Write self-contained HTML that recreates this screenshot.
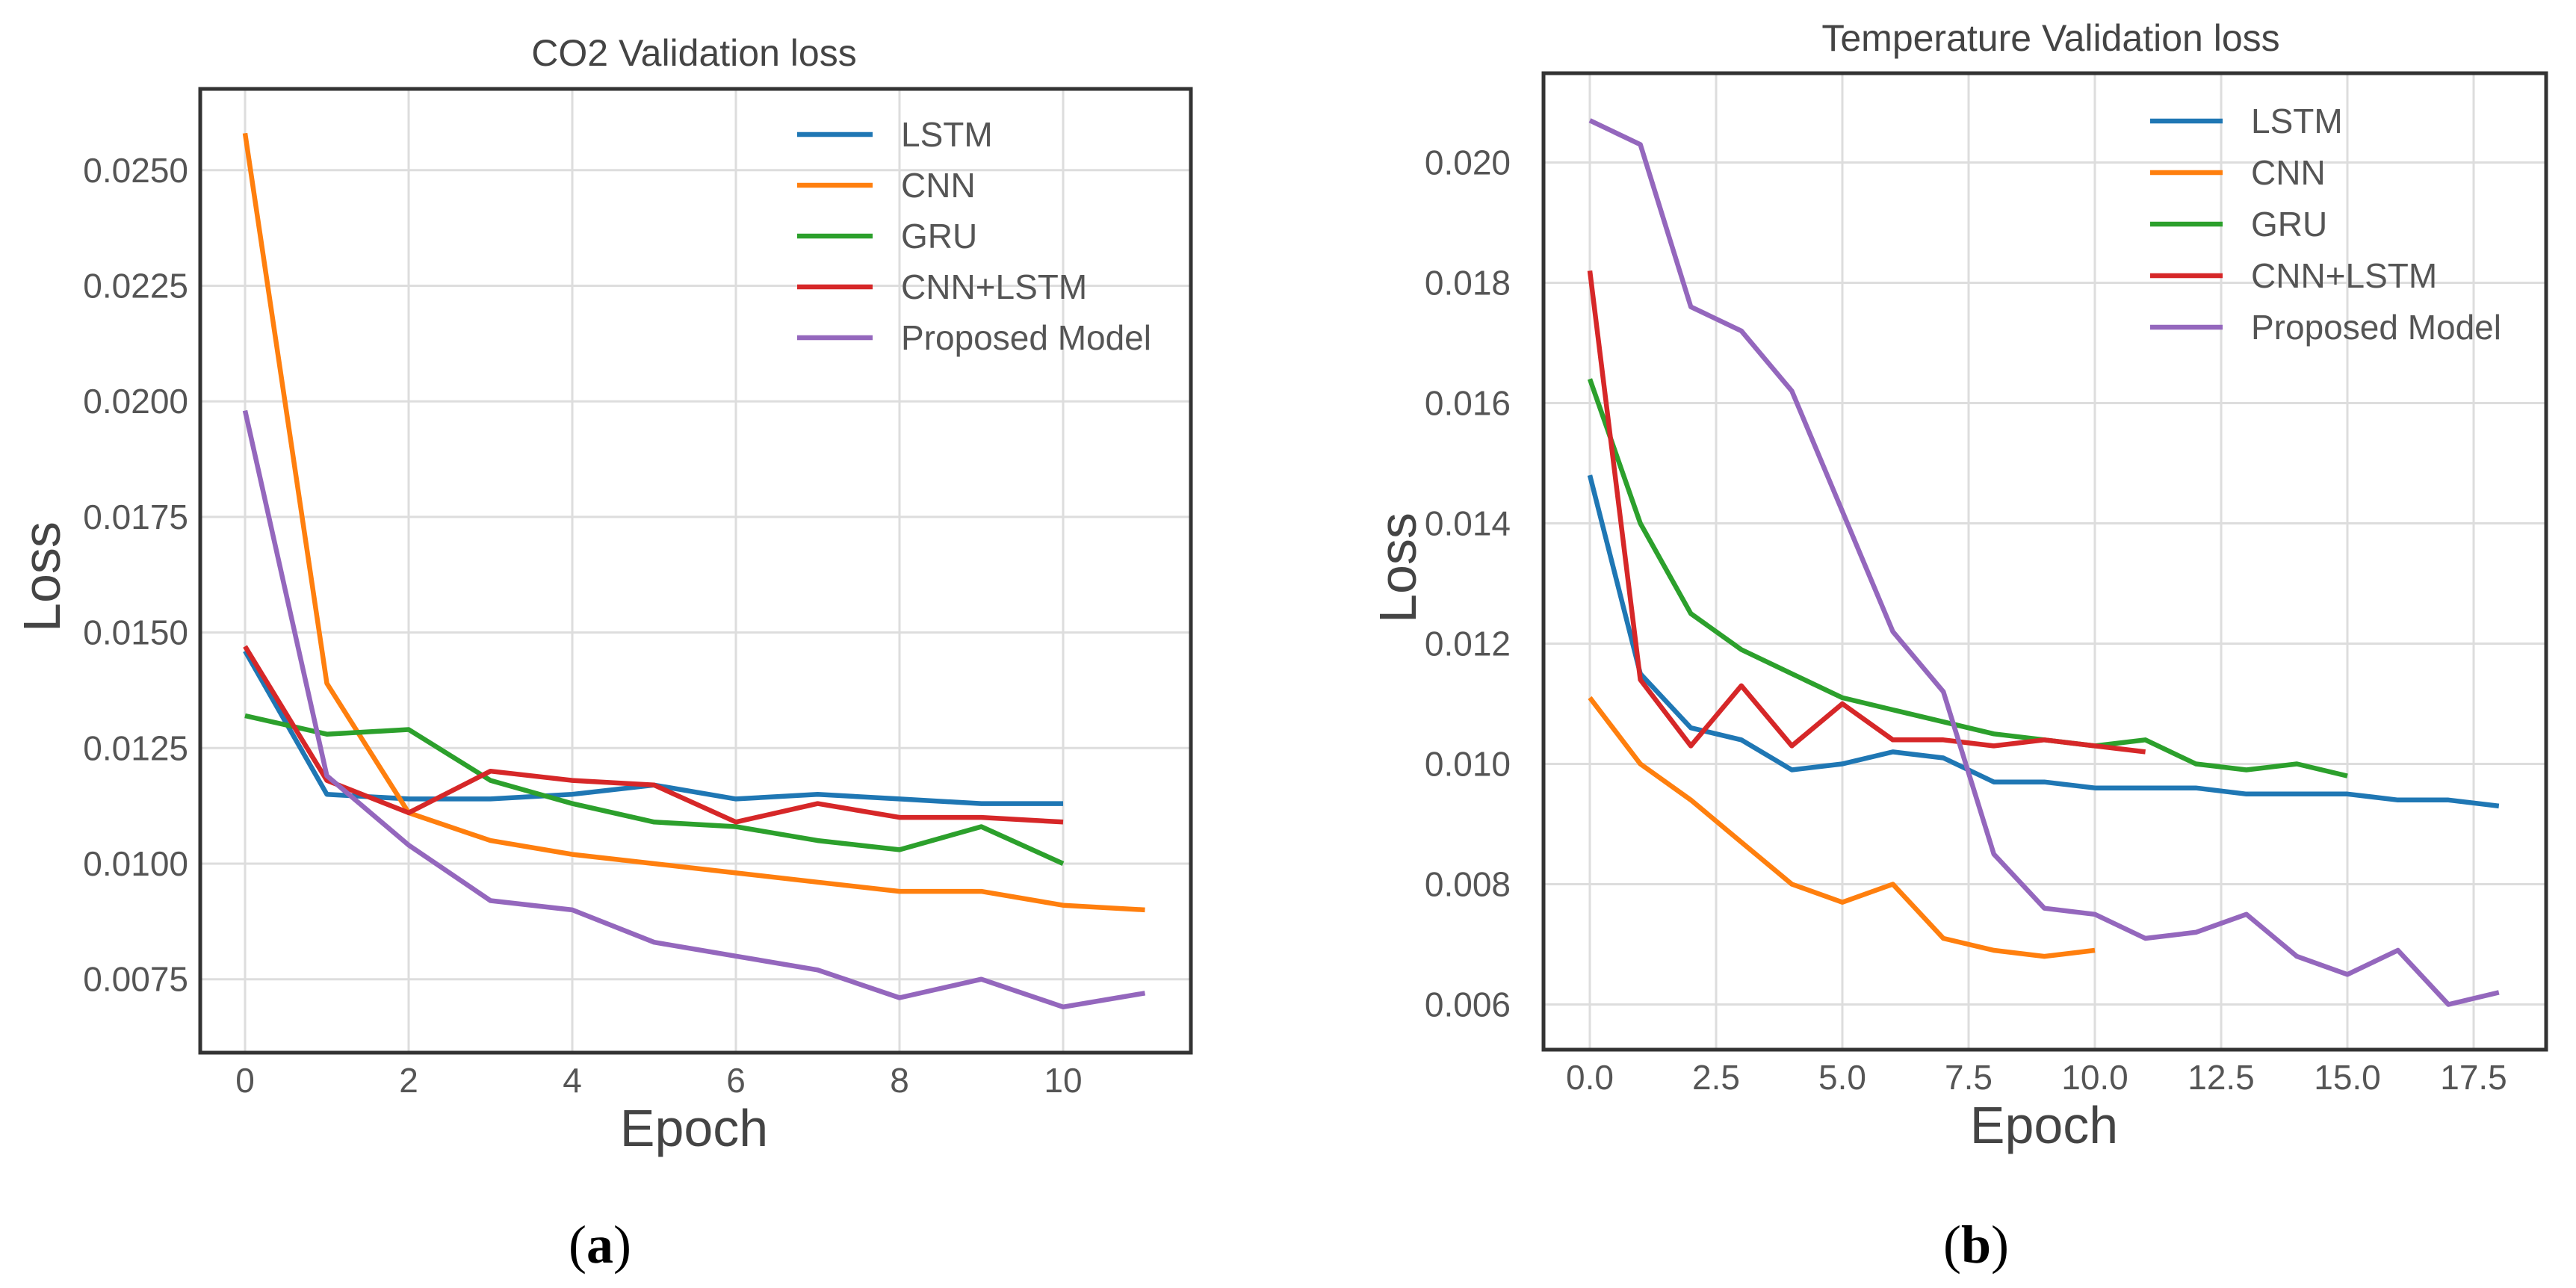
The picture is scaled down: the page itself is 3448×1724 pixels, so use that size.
<!DOCTYPE html>
<html><head><meta charset="utf-8"><style>
html,body{margin:0;padding:0;background:#fff;}
svg{display:block;}
text{font-family:"Liberation Sans",sans-serif;}
</style></head><body>
<svg id="fig" width="3448" height="1724" viewBox="0 0 3448 1724" xmlns="http://www.w3.org/2000/svg"></svg>
<script>
// ---------- Chart A data (CO2) ----------
const aSeriesNames = ["LSTM","CNN","GRU","CNN+LSTM","Proposed Model"];
const aLSTM = [0.0146,0.0115,0.0114,0.0114,0.0115,0.0117,0.0114,0.0115,0.0114,0.0113,0.0113];
const aCNN = [0.0258,0.0139,0.0111,0.0105,0.0102,0.0100,0.0098,0.0096,0.0094,0.0094,0.0091,0.0090];
const aGRU = [0.0132,0.0128,0.0129,0.0118,0.0113,0.0109,0.0108,0.0105,0.0103,0.0108,0.0100];
const aCNNLSTM = [0.0147,0.0118,0.0111,0.0120,0.0118,0.0117,0.0109,0.0113,0.0110,0.0110,0.0109];
const aProposed = [0.0198,0.0119,0.0104,0.0092,0.0090,0.0083,0.0080,0.0077,0.0071,0.0075,0.0069,0.0072];
const aXTicks = [0,2,4,6,8,10];
const aYTicks = [0.0075,0.0100,0.0125,0.0150,0.0175,0.0200,0.0225,0.0250];
const aYLabels = ["0.0075","0.0100","0.0125","0.0150","0.0175","0.0200","0.0225","0.0250"];
// ---------- Chart B data (Temperature) ----------
const bLSTM = [0.0148,0.0115,0.0106,0.0104,0.0099,0.0100,0.0102,0.0101,0.0097,0.0097,0.0096,0.0096,0.0096,0.0095,0.0095,0.0095,0.0094,0.0094,0.0093];
const bCNN = [0.0111,0.0100,0.0094,0.0087,0.0080,0.0077,0.0080,0.0071,0.0069,0.0068,0.0069];
const bGRU = [0.0164,0.0140,0.0125,0.0119,0.0115,0.0111,0.0109,0.0107,0.0105,0.0104,0.0103,0.0104,0.0100,0.0099,0.0100,0.0098];
const bCNNLSTM = [0.0182,0.0114,0.0103,0.0113,0.0103,0.0110,0.0104,0.0104,0.0103,0.0104,0.0103,0.0102];
const bProposed = [0.0207,0.0203,0.0176,0.0172,0.0162,0.0142,0.0122,0.0112,0.0085,0.0076,0.0075,0.0071,0.0072,0.0075,0.0068,0.0065,0.0069,0.0060,0.0062];
const bXTicks = [0,2.5,5,7.5,10,12.5,15,17.5];
const bXLabels = ["0.0","2.5","5.0","7.5","10.0","12.5","15.0","17.5"];
const bYTicks = [0.006,0.008,0.010,0.012,0.014,0.016,0.018,0.020];
const bYLabels = ["0.006","0.008","0.010","0.012","0.014","0.016","0.018","0.020"];

const colors = ["#1f77b4","#ff7f0e","#2ca02c","#d62728","#9467bd"];
const NS = "http://www.w3.org/2000/svg";
const svg = document.getElementById('fig');
function mk(tag, attrs, parent){ const e=document.createElementNS(NS,tag); for(const k in attrs) e.setAttribute(k,attrs[k]); (parent||svg).appendChild(e); return e; }

function drawChart(cfg){
  const g = mk('g',{});
  
  
  const xs = v => cfg.x0 + v*cfg.xPer;
  const ys = v => cfg.yRefPx - (v-cfg.yRef)/cfg.yStep*cfg.yStepPx;
  cfg.xTicks.forEach((t,i)=>{
    const l = mk('line',{x1:xs(t),x2:xs(t),y1:cfg.top,y2:cfg.bottom,stroke:"#dddddd","stroke-width":3},g);
    
    
    const tx = mk('text',{x:xs(t),y:cfg.xLabelY,"text-anchor":"middle","font-size":46,fill:"#555"},g);
    tx.textContent = cfg.xLabels[i];
    
    
  });
  cfg.yTicks.forEach((t,i)=>{
    const l = mk('line',{x1:cfg.left,x2:cfg.right,y1:ys(t),y2:ys(t),stroke:"#dddddd","stroke-width":3},g);
    
    
    const tx = mk('text',{x:cfg.yLabelX,y:ys(t)+16,"text-anchor":"end","font-size":46,fill:"#555"},g);
    tx.textContent = cfg.yLabels[i];
    
    
  });
  cfg.series.forEach((arr,si)=>{
    const pts = arr.map((v,i)=>xs(i).toFixed(1)+","+ys(v).toFixed(1)).join(" ");
    const p = mk('polyline',{points:pts,fill:"none",stroke:colors[si],"stroke-width":6.5,"stroke-linejoin":"round"},g);
    
    
  });
  const fr = mk('rect',{x:cfg.left,y:cfg.top,width:cfg.right-cfg.left,height:cfg.bottom-cfg.top,fill:"none",stroke:"#333","stroke-width":5},g);
  
  
  cfg.names.forEach((n,i)=>{
    const y = cfg.legY + i*cfg.legStep;
    const l = mk('line',{x1:cfg.legX1,x2:cfg.legX2,y1:y,y2:y,stroke:colors[i],"stroke-width":6.5},g);
    
    
    const t = mk('text',{x:cfg.legTX,y:y+16,"font-size":46,fill:"#555"},g);
    t.textContent = n;
    
    
  });
  const ti = mk('text',{x:cfg.titleX,y:cfg.titleY,"text-anchor":"middle","font-size":50,fill:"#444"},g);
  ti.textContent = cfg.title;
  
  
  const xl = mk('text',{x:cfg.xAxisX,y:cfg.xAxisY,"text-anchor":"middle","font-size":70,fill:"#444"},g);
  xl.textContent = "Epoch";
  
  
  const yl = mk('text',{x:0,y:0,"text-anchor":"middle","font-size":70,fill:"#444",transform:`translate(${cfg.yAxisX},${cfg.yAxisY}) rotate(-90)`},g);
  yl.textContent = "Loss";
  
  
  const cap = mk('text',{x:cfg.capX,y:1690,"text-anchor":"middle","font-size":72,fill:"#000",style:"font-family:'Liberation Serif',serif"},g);
  cap.innerHTML = '(<tspan font-weight="bold">'+cfg.cap+'</tspan>)';
  
  
}

drawChart({name:"co2-chart",left:268,right:1594,top:119,bottom:1409,
  x0:328,xPer:109.5,yRef:0.0100,yRefPx:1156,yStep:0.0025,yStepPx:154.7,
  xTicks:aXTicks,xLabels:aXTicks.map(String),yTicks:aYTicks,yLabels:aYLabels,
  xLabelY:1462,yLabelX:252,
  series:[aLSTM,aCNN,aGRU,aCNNLSTM,aProposed],names:aSeriesNames,
  legX1:1067,legX2:1168,legTX:1206,legY:180,legStep:68,
  title:"CO2 Validation loss",titleX:929,titleY:88,
  xAxisX:929,xAxisY:1534,yAxisX:80,yAxisY:772,cap:"a",capX:803});

drawChart({name:"temperature-chart",left:2066,right:3408,top:98,bottom:1405,
  x0:2128,xPer:67.6,yRef:0.010,yRefPx:1022.5,yStep:0.002,yStepPx:161,
  xTicks:bXTicks,xLabels:bXLabels,yTicks:bYTicks,yLabels:bYLabels,
  xLabelY:1458,yLabelX:2022,
  series:[bLSTM,bCNN,bGRU,bCNNLSTM,bProposed],names:aSeriesNames,
  legX1:2878,legX2:2975,legTX:3013,legY:162,legStep:69,
  title:"Temperature Validation loss",titleX:2745,titleY:68,
  xAxisX:2736,xAxisY:1530,yAxisX:1895,yAxisY:760,cap:"b",capX:2645});
</script>
</body></html>
